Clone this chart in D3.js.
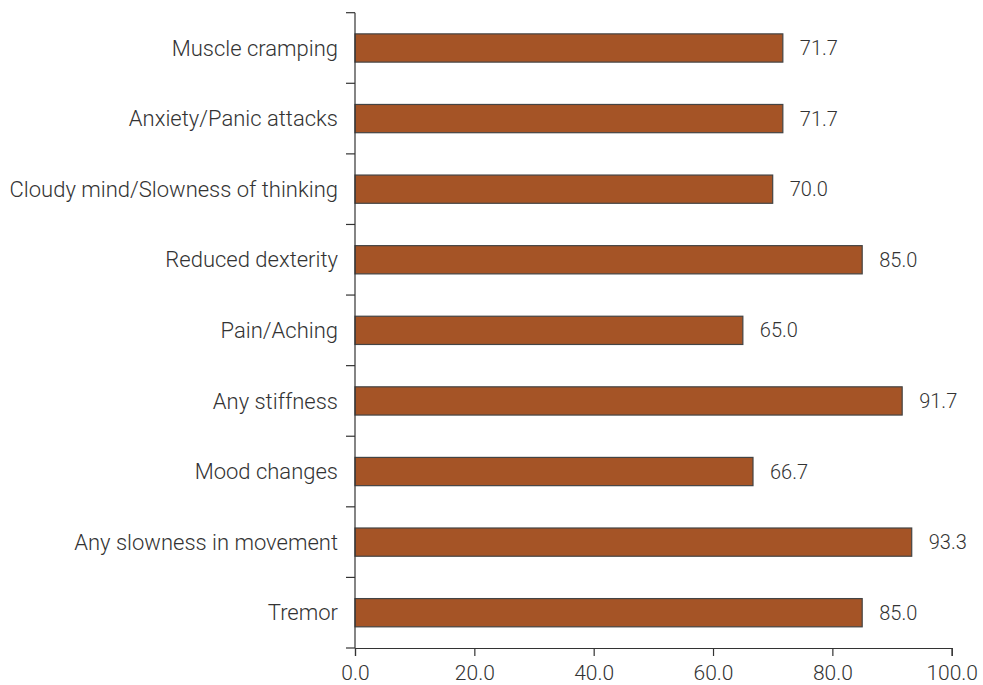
<!DOCTYPE html>
<html lang="en">
<head>
<meta charset="UTF-8">
<title>Symptoms</title>
<script src="https://d3js.org/d3.v7.min.js"></script>
<style>
  body { margin: 0; background: #fff; }
  text { font-family: Roboto, sans-serif; font-weight: 300; fill: #333; }
</style>
</head>
<body>
<div id="chart"></div>
<script>
const categories = ["Muscle cramping", "Anxiety/Panic attacks", "Cloudy mind/Slowness of thinking",
  "Reduced dexterity", "Pain/Aching", "Any stiffness", "Mood changes", "Any slowness in movement", "Tremor"];
const values = [71.7, 71.7, 70.0, 85.0, 65.0, 91.7, 66.7, 93.3, 85.0];
const xTicks = [0, 20, 40, 60, 80, 100];

const W = 983, H = 685;
const margin = { top: 12.7, right: 31.3, bottom: 37, left: 355 };
const width = W - margin.left - margin.right;
const height = H - margin.top - margin.bottom;

const svg = d3.select("#chart").append("svg")
  .attr("width", W).attr("height", H)
  .append("g")
  .attr("transform", `translate(${margin.left},${margin.top})`);

const x = d3.scaleLinear().domain([0, 100]).range([0, width]);
const y = d3.scaleBand().domain(categories).range([0, height]).paddingInner(0.6).paddingOuter(0.3);

svg.selectAll(".bar")
  .data(values)
  .enter().append("rect")
  .attr("class", "bar")
  .attr("x", 0)
  .attr("y", (d, i) => y(categories[i]))
  .attr("width", d => x(d))
  .attr("height", y.bandwidth())
  .attr("fill", "#a55426")
  .attr("stroke", "#444")
  .attr("stroke-width", 1.2);

svg.selectAll(".val")
  .data(values)
  .enter().append("text")
  .attr("class", "val")
  .attr("x", d => x(d) + 17)
  .attr("y", (d, i) => y(categories[i]) + y.bandwidth() / 2)
  .attr("dy", "0.35em")
  .style("font-size", "20px")
  .text(d => d.toFixed(1));

// y axis: ticks at band boundaries
const yAxis = svg.append("g");
yAxis.append("line")
  .attr("x1", 0).attr("x2", 0).attr("y1", 0).attr("y2", height)
  .attr("stroke", "#333").attr("stroke-width", 1.2);
yAxis.selectAll(".ytick")
  .data(d3.range(categories.length + 1))
  .enter().append("line")
  .attr("x1", -9).attr("x2", 0)
  .attr("y1", i => i * height / categories.length)
  .attr("y2", i => i * height / categories.length)
  .attr("stroke", "#333").attr("stroke-width", 1.2);
yAxis.selectAll(".ylab")
  .data(categories)
  .enter().append("text")
  .attr("x", -17)
  .attr("y", d => y(d) + y.bandwidth() / 2)
  .attr("dy", "0.35em")
  .attr("text-anchor", "end")
  .style("font-size", "22px")
  .text(d => d);

const xAxis = svg.append("g")
  .attr("transform", `translate(0,${height})`)
  .call(d3.axisBottom(x).tickValues(xTicks).tickSize(8).tickPadding(9).tickFormat(d3.format(".1f")));
xAxis.select(".domain").attr("stroke", "#333").attr("stroke-width", 1.2);
xAxis.selectAll(".tick line").attr("stroke", "#333").attr("stroke-width", 1.2);
xAxis.selectAll(".tick text")
  .style("font-size", "21px")
  .style("font-family", "Roboto, sans-serif")
  .attr("fill", "#333");
</script>
</body>
</html>
